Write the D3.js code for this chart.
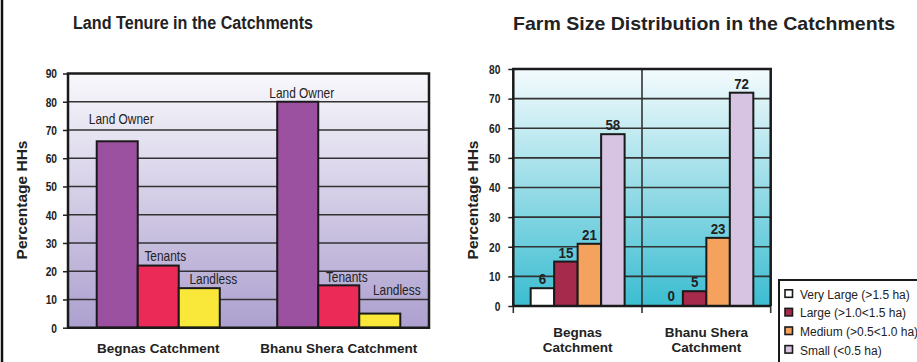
<!DOCTYPE html>
<meta charset="utf-8">
<style>
  body { margin: 0; background: #fff; }
  text { font-family: "Liberation Sans", Arial, sans-serif; fill: #222; }
</style>
<body>
<script src="https://d3js.org/d3.v7.min.js"></script>
<script>
// ---- data: land tenure ----
var tenureCatchments = ["Begnas Catchment", "Bhanu Shera Catchment"];
var tenureTypes = ["Land Owner", "Tenants", "Landless"];
var tenureColors = ["#9b519f", "#ec2a57", "#f9e73a"];
var tenureBegnas = [66, 22, 14];
var tenureBhanu = [80, 15, 5];
var tenureTicks = [0, 10, 20, 30, 40, 50, 60, 70, 80, 90];

// ---- data: farm size ----
var farmCatchments = ["Begnas Catchment", "Bhanu Shera Catchment"];
var farmSizes = ["Very Large (>1.5 ha)", "Large (>1.0<1.5 ha)", "Medium (>0.5<1.0 ha)", "Small (<0.5 ha)"];
var farmColors = ["#ffffff", "#a62a4c", "#f4a25e", "#d6c4e2"];
var farmBegnas = [6, 15, 21, 58];
var farmBhanu = [0, 5, 23, 72];
var farmTicks = [0, 10, 20, 30, 40, 50, 60, 70, 80];

var W = 917, H = 362;
var svg = d3.select("body").append("svg").attr("width", W).attr("height", H);

var defs = svg.append("defs");
function grad(id, top, bottom) {
  var g = defs.append("linearGradient").attr("id", id)
    .attr("x1", 0).attr("y1", 0).attr("x2", 0).attr("y2", 1);
  g.append("stop").attr("offset", "0%").attr("stop-color", top);
  g.append("stop").attr("offset", "100%").attr("stop-color", bottom);
}
grad("bgLeft", "#f8f8fc", "#ada0cf");
grad("bgRight", "#f4fbfd", "#3bbdd1");

// narrow text: squeeze horizontally around the anchor point
function narrow(sel, sx) {
  sel.each(function() {
    var t = d3.select(this), x = +t.attr("x"), y = +t.attr("y");
    t.attr("x", 0).attr("y", 0)
      .attr("transform", "translate(" + x + "," + y + ") scale(" + sx + ",1)");
  });
}

// left border line
svg.append("line").attr("x1", 2).attr("x2", 2).attr("y1", 0).attr("y2", H)
  .attr("stroke", "#111").attr("stroke-width", 2.5);

// titles
svg.append("text").attr("x", 73).attr("y", 29)
  .attr("textLength", 240).attr("lengthAdjust", "spacingAndGlyphs")
  .style("font-size", "17.5px").style("font-weight", "bold")
  .text("Land Tenure in the Catchments");
svg.append("text").attr("x", 513).attr("y", 30)
  .attr("textLength", 382).attr("lengthAdjust", "spacingAndGlyphs")
  .style("font-size", "18.5px").style("font-weight", "bold")
  .text("Farm Size Distribution in the Catchments");

// ================= left chart =================
(function() {
  var left = 68, right = 429, top = 73.5, bottom = 327.7;
  var g = svg.append("g");
  var y = d3.scaleLinear().domain([0, 90]).range([bottom, top]);
  var x0 = d3.scaleBand().domain(tenureCatchments).range([left, right]);
  var x1 = d3.scaleBand().domain(tenureTypes).range([0, x0.bandwidth()]).paddingOuter(0.7).paddingInner(0);
  var series = [tenureBegnas, tenureBhanu];

  g.append("rect").attr("x", left).attr("y", top).attr("width", right - left).attr("height", bottom - top)
    .attr("fill", "url(#bgLeft)");

  g.append("g").selectAll("line").data(tenureTicks.slice(1, -1)).join("line")
    .attr("x1", left).attr("x2", right).attr("y1", y).attr("y2", y)
    .attr("stroke", "#333").attr("stroke-width", 1.6);

  var yAxis = g.append("g").attr("transform", "translate(" + left + ",0)")
    .call(d3.axisLeft(y).tickValues(tenureTicks).tickSize(5).tickPadding(5));
  yAxis.select(".domain").remove();
  yAxis.selectAll("line").attr("stroke", "#222").attr("stroke-width", 1.5);
  yAxis.selectAll("text").style("font-size", "12px").style("font-weight", "bold")
    .attr("dy", "0.36em").attr("fill", "#222")
    .attr("transform", "scale(0.85,1)").attr("x", -11 / 0.85);

  // label nudges (offset from bar center / top)
  var nudge = [[[4, 17], [7, 5], [14, 4]], [[4, 4], [8, 3], [17, 19]]];

  tenureCatchments.forEach(function(c, ci) {
    var gg = g.append("g").attr("transform", "translate(" + x0(c) + ",0)");
    gg.selectAll("rect").data(series[ci]).join("rect")
      .attr("x", function(d, i) { return x1(tenureTypes[i]); })
      .attr("y", function(d) { return y(d); })
      .attr("width", x1.bandwidth())
      .attr("height", function(d) { return y(0) - y(d); })
      .attr("fill", function(d, i) { return tenureColors[i]; })
      .attr("stroke", "#1a1a1a").attr("stroke-width", 2);
    gg.selectAll("text.lbl").data(series[ci]).join("text").attr("class", "lbl")
      .attr("x", function(d, i) { return x1(tenureTypes[i]) + x1.bandwidth() / 2 + nudge[ci][i][0]; })
      .attr("y", function(d, i) { return y(d) - nudge[ci][i][1]; })
      .attr("text-anchor", "middle")
      .style("font-size", "14px")
      .text(function(d, i) { return tenureTypes[i]; })
      .call(narrow, 0.85);
  });

  // frame
  g.append("path").attr("d", "M" + left + "," + bottom + "V" + top + "H" + right + "V" + bottom + "Z")
    .attr("fill", "none").attr("stroke", "#1a1a1a").attr("stroke-width", 2.5);

  g.append("g").selectAll("text").data(tenureCatchments).join("text")
    .attr("x", function(d) { return x0(d) + x0.bandwidth() / 2; })
    .attr("y", 353).attr("text-anchor", "middle")
    .style("font-size", "13.5px").style("font-weight", "bold")
    .text(function(d) { return d; });

  g.append("text").attr("transform", "translate(27,200) rotate(-90)")
    .attr("text-anchor", "middle").style("font-size", "15.5px").style("font-weight", "bold")
    .text("Percentage HHs");
})();

// ================= right chart =================
(function() {
  var left = 513.3, right = 770.7, top = 69, bottom = 306;
  var g = svg.append("g");
  var y = d3.scaleLinear().domain([0, 80]).range([bottom, top]);
  var x0 = d3.scaleBand().domain(farmCatchments).range([left, right]);
  var x1 = d3.scaleBand().domain(farmSizes).range([0, x0.bandwidth()]).paddingOuter(0.74).paddingInner(0);
  var series = [farmBegnas, farmBhanu];

  g.append("rect").attr("x", left).attr("y", top).attr("width", right - left).attr("height", bottom - top)
    .attr("fill", "url(#bgRight)");

  g.append("g").selectAll("line").data(farmTicks.slice(1, -1)).join("line")
    .attr("x1", left).attr("x2", right).attr("y1", y).attr("y2", y)
    .attr("stroke", "#333").attr("stroke-width", 1.6);

  // category divider + ticks under the axis
  g.append("g").selectAll("line").data([left, x0(farmCatchments[1]), right]).join("line")
    .attr("x1", function(d) { return d; }).attr("x2", function(d) { return d; })
    .attr("y1", function(d, i) { return i === 1 ? top : bottom; }).attr("y2", bottom + 7)
    .attr("stroke", "#333").attr("stroke-width", 1.6);

  var yAxis = g.append("g").attr("transform", "translate(" + left + ",0)")
    .call(d3.axisLeft(y).tickValues(farmTicks).tickSize(5).tickPadding(7));
  yAxis.select(".domain").remove();
  yAxis.selectAll("line").attr("stroke", "#222").attr("stroke-width", 1.5);
  yAxis.selectAll("text").style("font-size", "12px").style("font-weight", "bold")
    .attr("dy", "0.36em").attr("fill", "#222")
    .attr("transform", "scale(0.85,1)").attr("x", -13 / 0.85);

  farmCatchments.forEach(function(c, ci) {
    var gg = g.append("g").attr("transform", "translate(" + x0(c) + ",0)");
    gg.selectAll("rect").data(series[ci]).join("rect")
      .attr("display", function(d) { return d > 0 ? null : "none"; })
      .attr("x", function(d, i) { return x1(farmSizes[i]); })
      .attr("y", function(d) { return y(d); })
      .attr("width", x1.bandwidth())
      .attr("height", function(d) { return y(0) - y(d); })
      .attr("fill", function(d, i) { return farmColors[i]; })
      .attr("stroke", "#1a1a1a").attr("stroke-width", 2);
    gg.selectAll("text.val").data(series[ci]).join("text").attr("class", "val")
      .attr("x", function(d, i) { return x1(farmSizes[i]) + x1.bandwidth() / 2; })
      .attr("y", function(d) { return y(d) - (d > 0 ? 4 : 5); })
      .attr("text-anchor", "middle")
      .style("font-size", "14.5px").style("font-weight", "bold")
      .text(function(d) { return d; })
      .call(narrow, 0.92);
  });

  g.append("path").attr("d", "M" + left + "," + bottom + "V" + top + "H" + right + "V" + bottom)
    .attr("fill", "none").attr("stroke", "#1a1a1a").attr("stroke-width", 2.5);
  g.append("line").attr("x1", left).attr("x2", right).attr("y1", bottom).attr("y2", bottom)
    .attr("stroke", "#1a1a1a").attr("stroke-width", 2.5);

  var xl = g.append("g").selectAll("text").data(farmCatchments).join("text")
    .attr("x", function(d) { return x0(d) + x0.bandwidth() / 2; })
    .attr("y", 337).attr("text-anchor", "middle")
    .style("font-size", "13.5px").style("font-weight", "bold");
  xl.append("tspan").text(function(d) { return d.replace(" Catchment", ""); });
  xl.append("tspan").attr("x", function(d) { return x0(d) + x0.bandwidth() / 2; }).attr("dy", 15)
    .text("Catchment");

  g.append("text").attr("transform", "translate(478,200) rotate(-90)")
    .attr("text-anchor", "middle").style("font-size", "15.5px").style("font-weight", "bold")
    .text("Percentage HHs");

  // legend
  var lg = svg.append("g");
  lg.append("path").attr("d", "M" + W + ",280H779V" + H)
    .attr("fill", "#fff").attr("stroke", "#1a1a1a").attr("stroke-width", 2);
  var rows = lg.selectAll("g").data(farmSizes).join("g")
    .attr("transform", function(d, i) { return "translate(785," + (294.3 + i * 18.6) + ")"; });
  rows.append("rect").attr("x", 0).attr("y", -4.5).attr("width", 7.5).attr("height", 7.5)
    .attr("fill", function(d, i) { return farmColors[i]; })
    .attr("stroke", "#1a1a1a").attr("stroke-width", 1.6);
  rows.append("text").attr("x", 15).attr("y", 4.5)
    .style("font-size", "12px").attr("fill", "#333")
    .text(function(d) { return d; });
})();
</script>
</body>
